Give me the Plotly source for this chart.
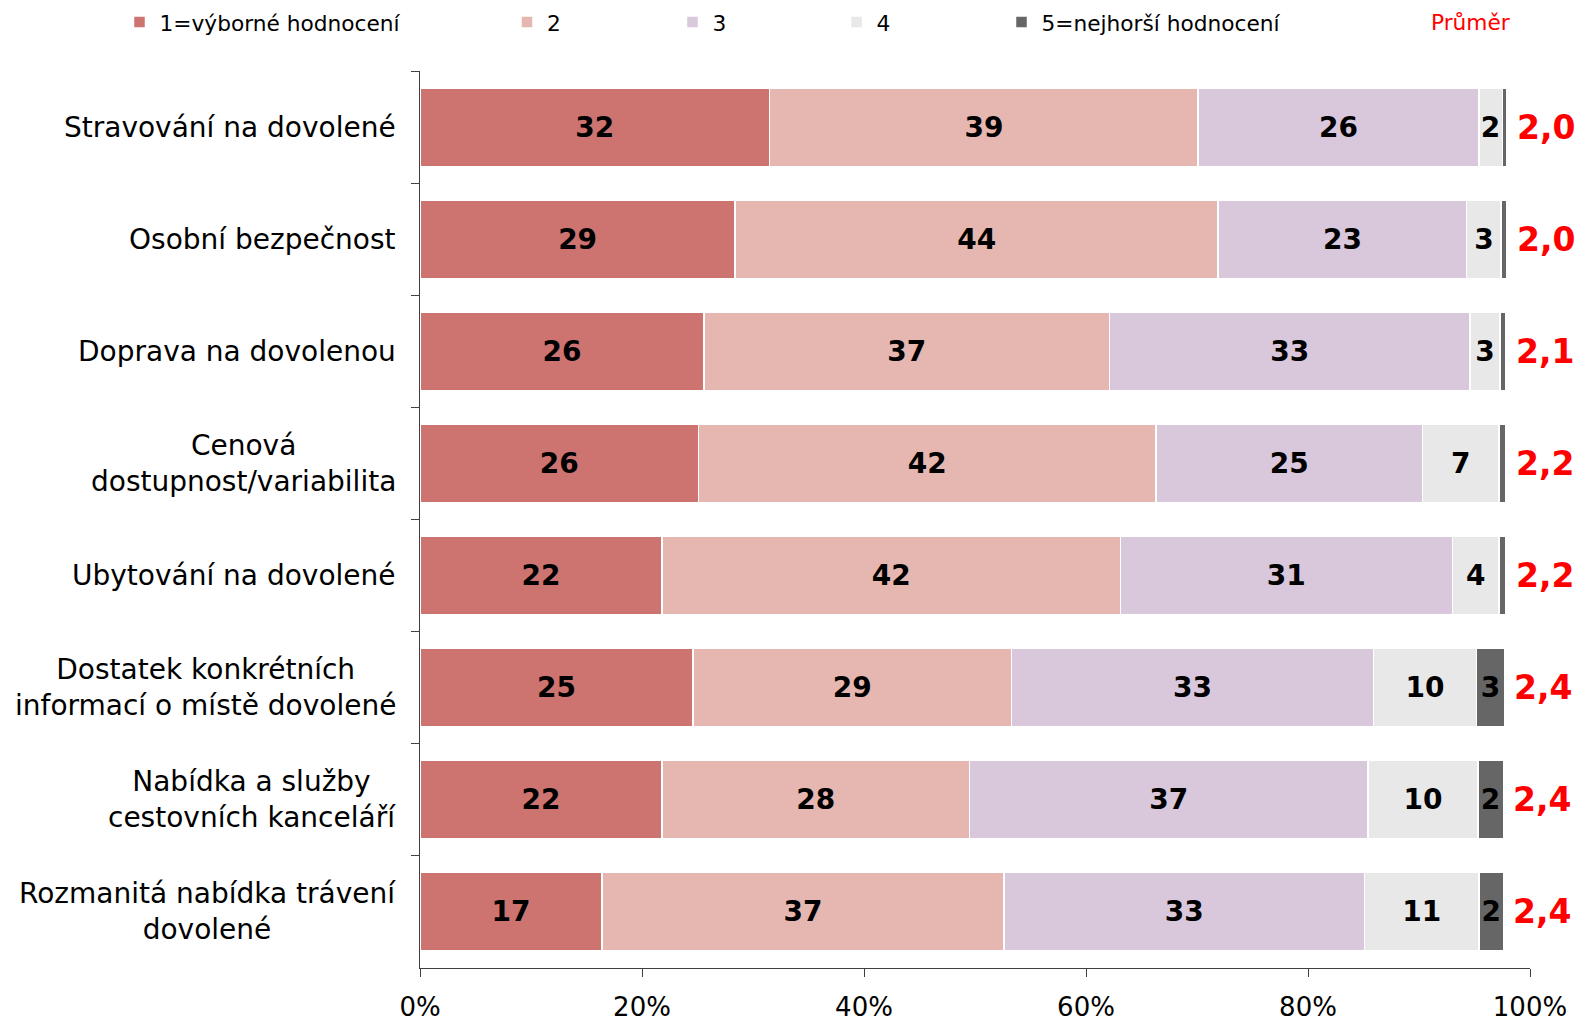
import plotly.graph_objects as go

categories = [
    "Stravování na dovolené",
    "Osobní bezpečnost",
    "Doprava na dovolenou",
    "Cenová<br>dostupnost/variabilita",
    "Ubytování na dovolené",
    "Dostatek konkrétních<br>informací o místě dovolené",
    "Nabídka a služby<br>cestovních kanceláří",
    "Rozmanitá nabídka trávení<br>dovolené",
]

series_names = ["1=výborné hodnocení", "2", "3", "4", "5=nejhorší hodnocení"]

# bar lengths (% of respondents)
values_1 = [31.5, 28.4, 25.6, 25.1, 21.8, 24.6, 21.8, 16.4]
values_2 = [38.6, 43.5, 36.5, 41.2, 41.3, 28.7, 27.7, 36.2]
values_3 = [25.3, 22.4, 32.5, 24.0, 29.9, 32.6, 35.9, 32.5]
values_4 = [2.1, 3.1, 2.7, 6.9, 4.2, 9.3, 9.9, 10.3]
values_5 = [0.4, 0.5, 0.5, 0.6, 0.6, 2.5, 2.3, 2.2]

# printed data labels
labels_1 = [32, 29, 26, 26, 22, 25, 22, 17]
labels_2 = [39, 44, 37, 42, 42, 29, 28, 37]
labels_3 = [26, 23, 33, 25, 31, 33, 37, 33]
labels_4 = [2, 3, 3, 7, 4, 10, 10, 11]
labels_5 = [None, None, None, None, None, 3, 2, 2]

means = [2.0, 2.0, 2.1, 2.2, 2.2, 2.4, 2.4, 2.4]
mean_title = "Průměr"

x_ticks = [0, 20, 40, 60, 80, 100]
x_tick_labels = ["0%", "20%", "40%", "60%", "80%", "100%"]

colors = ["#CD7370", "#E6B6B0", "#D9C7DC", "#E8E8E8", "#666666"]

FONT = "DejaVu Sans"

all_values = [values_1, values_2, values_3, values_4, values_5]
all_labels = [labels_1, labels_2, labels_3, labels_4, labels_5]

# page body has an 8px margin: compensate so the chart sits where the reference does
OFF = 8
W, H = 1586 - OFF, 1021 - OFF

fig = go.Figure()
legend_ids = ["legend", "legend2", "legend3", "legend4", "legend5"]
for name, vals, labs, col, lg in zip(series_names, all_values, all_labels, colors, legend_ids):
    fig.add_trace(go.Bar(
        y=categories, x=vals, name=name, orientation="h",
        marker=dict(color=col, line=dict(color="white", width=1.5)),
        text=["" if v is None else str(v) for v in labs],
        texttemplate="%{text}",
        textposition="inside", insidetextanchor="middle", textangle=0,
        constraintext="none",
        textfont=dict(family=FONT, size=28, color="black", weight="bold"),
        legend=lg, showlegend=True, hoverinfo="skip",
    ))

# legend positions (symbol centres in px of the full page)
legend_centers = [143.5, 531, 696.5, 860.5, 1025.5]
layout_legends = {}
for lg, cx in zip(legend_ids, legend_centers):
    layout_legends[lg] = dict(
        x=(cx - 24 - OFF) / W, y=1 - (22.5 - OFF) / H, xref="container", yref="container",
        xanchor="left", yanchor="middle", orientation="h",
        font=dict(family=FONT, size=21.7, color="#000000"),
        bgcolor="rgba(0,0,0,0)", borderwidth=0, itemwidth=30,
    )

annotations = []
totals = [sum(v[i] for v in all_values) for i in range(len(categories))]
for cat, tot, m in zip(categories, totals, means):
    annotations.append(dict(
        x=0, xref="paper", y=cat, yref="y", text=cat, showarrow=False,
        xanchor="right", yanchor="middle", align="center", xshift=-22,
        font=dict(family=FONT, size=28, color="black"),
    ))
    annotations.append(dict(
        x=tot, xref="x", y=cat, yref="y", text=f"{m:.1f}".replace(".", ","),
        showarrow=False, xanchor="left", yanchor="middle", xshift=8,
        font=dict(family=FONT, size=33, color="#FF0000", weight="bold"),
    ))
annotations.append(dict(
    x=(1429 - 420) / 1110, xref="paper", y=1 + (71 - 22.5) / 897, yref="paper",
    text=mean_title, showarrow=False, xanchor="left", yanchor="middle",
    font=dict(family=FONT, size=21.7, color="#FF0000"),
))

fig.update_layout(
    width=W, height=H,
    margin=dict(l=420 - OFF, r=56, t=71 - OFF, b=53, autoexpand=False),
    barmode="stack", bargap=0.30,
    plot_bgcolor="white", paper_bgcolor="white",
    font=dict(family=FONT, color="black"),
    showlegend=True,
    annotations=annotations,
    **layout_legends,
)
fig.update_xaxes(
    range=[0, 100], tickvals=x_ticks, ticktext=x_tick_labels,
    showline=True, linecolor="#404040", linewidth=1,
    ticks="outside", ticklen=8, tickcolor="#404040", ticklabelstandoff=8,
    showgrid=False, zeroline=False, automargin=False,
    tickfont=dict(family=FONT, size=26, color="black"),
)
fig.update_yaxes(
    autorange="reversed", showticklabels=False, automargin=False,
    showline=True, linecolor="#404040", linewidth=1,
    ticks="outside", ticklen=8, tickcolor="#404040", tickson="boundaries",
    showgrid=False, zeroline=False,
)

fig.write_html("out.html")
